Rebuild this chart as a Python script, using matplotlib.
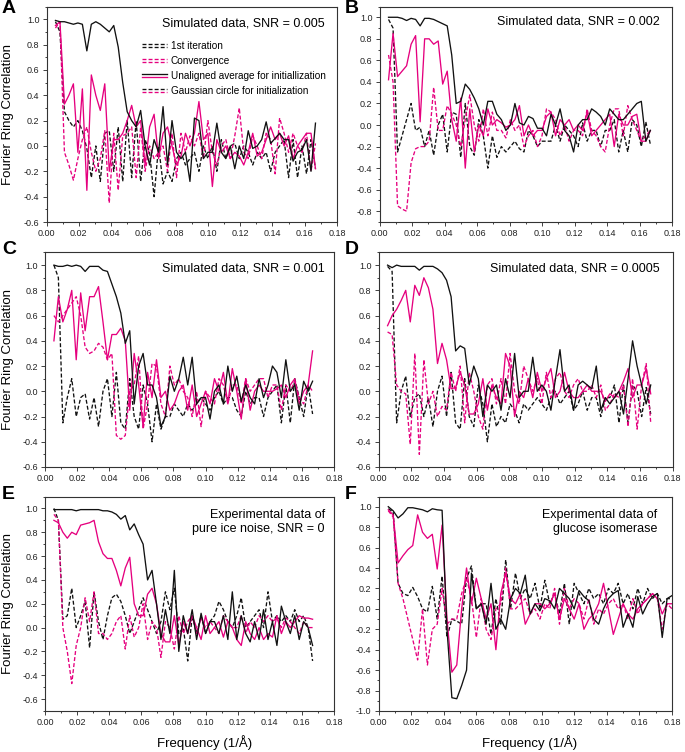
import numpy as np
import matplotlib
matplotlib.use("Agg")
import matplotlib.pyplot as plt
from matplotlib.lines import Line2D
from matplotlib.legend_handler import HandlerBase
from matplotlib.ticker import MultipleLocator, FormatStrFormatter

plt.rcParams['font.family'] = ['Liberation Sans', 'DejaVu Sans']
plt.rcParams['axes.unicode_minus'] = False

# ---------------- data ----------------
# frequency grids (1/Å)
freq_sim = np.arange(2, 61) / 360.0          # panels A-E
freq_gi = np.arange(2, 61) * 0.003           # panel F

series_names = ["1st iteration, unaligned average", "Convergence, unaligned average",
                "1st iteration, Gaussian circle", "Convergence, Gaussian circle"]

a_first_unal = [.99, .98, .98, .97, .96, .97, .96, .75, .96, .98, .96, .93, .90, .95, .78, .50, .27, .20, .15, .28,
                .00, -.15, .05, -.05, .31, -.15, .20, -.05, -.10, -.05, -.28, .22, .20, -.10, -.05, -.05, .18, -.05,
                -.10, .00, -.18, .00, -.10, .12, -.02, .00, .05, .19, .02, .06, .10, .05, .05, -.12, -.05, -.03, .05,
                -.20, .18]
a_conv_unal = [.95, .98, .33, .40, .49, -.05, .45, -.35, .56, .40, .28, .49, -.20, .05, .05, .10, .20, .32, .15, .20,
               -.15, .15, .25, -.10, .10, .15, .00, -.15, -.08, .10, .00, .10, .35, .05, .10, -.32, .05, -.05, .00,
               -.10, -.05, -.08, -.15, -.05, .10, -.08, -.05, .05, .15, .05, .10, .00, .08, -.10, .00, .05, .10, .10,
               -.18]
a_first_gaus = [.98, .90, .27, .20, .15, .20, .12, -.02, -.25, .00, -.28, .10, .12, -.20, .15, -.28, .20, -.25, .20,
                -.28, .05, -.05, -.40, .00, -.30, -.20, -.28, -.10, -.05, -.15, -.10, -.05, -.20, .00, -.10, .00,
                -.20, .05, -.10, .00, .02, -.10, .00, -.05, -.15, -.05, -.10, -.05, -.20, -.05, .00, .05, -.25, .05,
                -.25, .00, -.22, .05, -.18]
a_conv_gaus = [.93, .98, -.05, -.15, -.27, -.10, .05, .15, -.05, -.20, -.10, .12, -.45, .10, -.35, .08, .10, .15, -.25,
               .15, -.20, .00, -.10, -.05, .00, -.20, .10, -.25, .10, -.05, .08, .00, .10, -.10, .20, -.05, -.15, .00,
               .05, -.10, .08, .30, -.05, -.10, .08, .00, -.10, .10, .05, -.22, .22, .10, -.05, .10, .00, -.05, .10,
               -.20, .02]

b_first_unal = [1.00, 1.00, 1.00, .99, .97, .99, .98, .92, .99, .99, .98, .96, .94, .92, .65, .20, .22, .38, .33, .25,
                .15, .00, .22, .22, .10, .05, -.05, .00, .20, .02, .00, .08, .06, -.03, -.03, -.10, .10, .00, .15,
                -.05, -.10, -.25, .00, .05, .05, .15, .12, .08, .00, .15, .10, .05, .05, .10, .15, .20, .22, -.15, -.05]
b_conv_unal = [.42, .85, .45, .50, .55, .75, .83, .03, .80, .80, .75, .78, .38, .50, .05, -.15, .25, -.40, .15, -.25,
               .00, -.10, .15, .00, .05, .02, -.02, .00, .05, .18, -.10, .00, -.10, -.05, -.05, .08, .12, -.10, .05,
               .00, .05, -.05, .00, -.05, .12, -.10, -.05, .00, .05, .10, -.20, .10, .00, .00, .08, .10, -.15, -.15,
               -.05]
b_first_gaus = [.98, .90, -.25, -.10, .05, .20, -.05, -.02, -.20, -.05, -.28, .00, .10, -.25, .12, .10, -.30, .20,
                -.20, -.28, .05, -.10, -.40, -.10, -.30, -.20, -.25, -.20, -.15, -.22, -.25, -.05, -.10, -.20, -.15,
                -.15, -.15, .00, -.15, .00, -.05, -.10, -.20, .02, -.15, -.05, -.05, -.20, -.05, -.05, .05, -.25,
                -.05, -.25, .05, .00, -.20, .03, -.18]
b_conv_gaus = [.65, .40, -.75, -.78, -.80, -.35, -.22, -.20, -.20, -.15, .35, -.05, -.05, .18, .10, .00, -.20, .05,
               .28, .00, -.15, .15, -.10, .12, -.05, -.05, -.12, .05, -.05, .00, -.20, -.10, -.05, -.20, -.10, .15,
               .12, .05, -.10, .00, -.15, -.05, -.05, -.10, .15, -.05, -.10, -.20, -.25, .00, .15, .15, -.10, .18,
               .05, -.05, -.15, -.10, -.05]

c_first_unal = [1.00, .99, .99, 1.00, .99, 1.00, .99, .95, .99, .99, .99, .96, .95, .85, .75, .62, .38, .48, -.10,
                .20, .30, .05, .05, -.05, -.28, -.20, .12, .00, .10, .27, .05, .27, -.10, -.05, -.05, -.22, .00, .05,
                -.10, .20, .00, .12, -.08, .05, -.05, -.10, .10, -.05, .05, .20, .15, -.05, .25, .00, .05, -.15, .08,
                .00, .08]
c_conv_unal = [.40, .75, .55, .65, .80, .25, .78, .48, .75, .75, .83, .55, .25, .45, .45, .50, .40, -.15, .30, .05,
               -.28, .15, -.05, .25, -.05, .00, -.15, -.10, .00, .05, -.15, .05, -.20, -.10, .00, -.10, .10, .00,
               .15, -.10, .18, .00, -.22, .10, -.15, .00, .05, .00, .00, .00, .02, .05, -.05, .05, .10, -.10, .00,
               .05, .32]
c_first_gaus = [1.00, .90, -.25, -.05, .10, -.20, -.05, -.02, -.22, -.05, -.28, .00, .10, -.20, .15, -.25, -.30, .10,
                -.20, -.30, .05, -.10, -.40, -.10, -.30, -.20, -.20, -.10, -.15, -.20, -.10, -.15, -.10, -.05, -.10,
                -.15, -.05, .00, -.10, -.05, -.05, -.15, -.20, .00, -.10, -.05, -.05, -.20, -.05, .00, .05, -.25,
                .05, -.25, .10, -.05, -.20, .05, -.18]
c_conv_gaus = [.60, .55, .60, .65, .70, .75, .60, .35, .30, .32, .38, .35, .25, .30, -.35, -.38, -.35, .00, .05, .28,
               -.30, -.10, .22, .20, -.10, -.20, .20, .05, .10, .00, -.05, -.20, .00, -.28, .00, -.05, -.10, .10,
               .05, -.10, .05, .05, -.10, .10, .00, .05, .10, .10, -.05, .05, .05, -.15, .05, .00, .08, -.05, -.10,
               .05, .00]

d_first_unal = [1.00, .98, 1.00, .99, .99, .99, .99, .96, .99, .99, .99, .97, .94, .88, .75, .32, .36, .34, .05, .20,
                .10, -.20, .05, .00, .05, -.15, .10, -.05, .30, -.05, .00, .00, .27, .00, .05, .00, -.15, .10, .33,
                .00, .05, -.15, .05, .08, .05, .02, .20, -.15, -.05, -.10, -.05, .00, -.18, .10, .40, .20, .05, -.10,
                .05]
d_conv_unal = [.52, .60, .65, .72, .80, .55, .84, .76, .90, .82, .65, .22, .38, .25, .02, .03, .15, .05, -.18, -.18,
               -.10, .10, -.15, .05, -.05, -.10, .30, .20, -.20, .00, -.05, .10, -.05, .15, .00, .10, .18, -.05, .00,
               .15, .00, -.05, -.05, .00, .05, .00, .00, .00, -.08, -.02, -.05, .00, .08, .18, -.05, .05, .05, .18,
               -.02]
d_first_gaus = [.99, .95, -.25, .00, .12, -.20, -.05, -.02, -.20, -.05, -.28, .00, .12, -.20, .15, -.25, -.30, .10,
                -.20, -.28, .05, -.10, -.40, -.10, -.28, -.20, -.25, -.10, -.15, -.25, -.10, -.15, -.10, -.05, -.10,
                -.15, -.05, .00, -.10, -.05, .00, -.15, -.10, .00, -.15, -.05, -.05, -.20, -.05, -.05, .05, -.25,
                .05, -.25, .05, .00, -.20, .03, -.18]
d_conv_gaus = [.47, .45, .05, .00, -.02, -.42, .30, -.50, .25, -.10, .00, -.20, -.12, -.15, .15, .00, .20, -.25, .15,
               .00, -.20, -.30, .05, .10, -.10, .10, -.10, .30, .00, -.10, .20, .10, .00, .10, -.10, .15, -.05, .10,
               .15, .00, -.05, .05, .10, .00, .00, .05, -.05, .05, -.15, -.10, -.02, -.05, .05, -.28, .10, -.30, .05,
               .22, -.25]

e_first_unal = [.99, .99, .99, .99, .99, .98, .99, .99, .99, .99, .99, .98, .98, .97, .95, .91, .94, .82, .87, .78,
                .70, .40, .48, .20, -.10, .15, -.05, .48, -.20, .10, -.05, .15, -.10, .12, -.05, .05, .05, -.05, .10,
                -.10, .30, -.10, .10, -.05, -.12, .05, -.10, .15, -.10, .05, -.15, .18, .05, -.05, .10, -.10, .05,
                .00, -.15]
e_conv_unal = [.90, .88, .80, .75, .80, .78, .86, .87, .88, .90, .72, .62, .58, .58, .48, .35, .50, .59, .20, .10,
               .10, .28, .33, .20, -.05, -.12, -.12, .10, -.15, .05, -.05, .10, .00, -.10, .10, -.05, .00, .05, -.08,
               .05, .00, -.10, -.15, .05, -.05, -.10, .00, -.10, -.05, -.08, .10, -.05, .05, .00, .05, .10, .08, .08,
               .07]
e_first_gaus = [1.00, .90, .07, .10, .33, .00, .10, .22, -.17, .30, .05, -.10, .10, .25, .28, .22, .10, -.05, .05,
                .15, .25, .15, .05, -.05, .05, .30, .15, .33, -.05, .00, -.28, .10, -.05, .10, -.05, .05, .10, .22,
                .15, .05, .00, .10, .25, .00, .05, .10, .15, .00, .30, .05, .10, .05, .10, .05, .15, .05, .10, .00,
                -.28]
e_conv_gaus = [.95, .90, .00, -.20, -.47, -.15, .00, .25, .05, .30, -.05, -.05, -.10, -.05, .05, .10, -.18, .10, -.08,
               .00, .20, -.10, .05, .00, -.25, .05, .00, -.18, .10, -.05, .05, .10, -.05, .08, .00, .05, .00, -.05,
               .10, .05, .00, .00, .10, -.05, .05, .00, .10, .05, .10, .05, .08, .00, .08, .05, .00, -.05, .05, .00,
               .00]

f_first_unal = [1.00, .96, .89, .93, .99, .99, .98, .97, .95, .98, .97, .965, -.20, -.87, -.88, -.75, -.60, .35, .00,
                .05, -.15, .25, -.20, -.10, -.20, .10, .20, .15, .33, -.05, .05, -.02, .10, .08, .00, .20, .15, .10,
                .00, .18, .12, .08, -.10, -.15, .00, .10, .15, .18, -.18, -.05, -.18, .12, -.05, .05, .12, .15, -.28,
                .10, .13]
f_conv_unal = [.97, .92, .45, .52, .58, .62, .92, .75, .69, .73, .39, .82, -.10, -.62, -.55, .00, .40, .05, .30, .10,
               -.10, .05, -.40, .15, .35, .10, .05, .15, -.15, -.05, .05, .05, .00, .05, .15, -.10, .10, .00, -.10,
               .05, -.20, -.10, -.05, .05, .25, .00, -.25, -.10, .05, -.05, -.10, .00, .05, .10, .15, .10, -.05, .05,
               .05]
f_first_gaus = [.98, .95, .25, .15, .13, .21, .12, .00, -.03, .22, -.10, .32, -.28, -.10, -.12, -.15, .30, .42, .00,
                .05, .05, -.25, .10, -.15, .48, .00, .35, .10, .20, .10, .25, .00, .28, .05, .15, -.05, .25, -.15,
                .25, .15, .05, .20, .10, .15, .05, .20, .15, .25, .05, .15, .00, .20, .05, .20, .10, .15, .05, .10,
                .10]
f_conv_gaus = [.96, .90, .25, .10, -.10, -.30, -.50, .00, -.55, -.20, -.15, .20, -.15, -.10, -.10, .15, .30, .10,
               -.28, .10, -.20, -.30, .00, .05, .40, .00, .00, .05, .10, -.05, .00, -.10, .05, .00, .20, -.15, .20,
               .00, .10, .05, -.10, .10, -.15, .00, -.05, .05, .10, .00, .05, -.10, .10, -.05, .05, .10, .15, .10,
               -.20, .05, .00]

panel_letters = ["A", "B", "C", "D", "E", "F"]
panel_titles = ["Simulated data, SNR = 0.005", "Simulated data, SNR = 0.002",
                "Simulated data, SNR = 0.001", "Simulated data, SNR = 0.0005",
                "Experimental data of\npure ice noise, SNR = 0", "Experimental data of\nglucose isomerase"]
legend_labels = ["1st iteration", "Convergence",
                 "Unaligned average for initiallization", "Gaussian circle for initialization"]
y_label = "Fourier Ring Correlation"
x_label = "Frequency (1/Å)"

panel_data = [
    (freq_sim, a_first_unal, a_conv_unal, a_first_gaus, a_conv_gaus),
    (freq_sim, b_first_unal, b_conv_unal, b_first_gaus, b_conv_gaus),
    (freq_sim, c_first_unal, c_conv_unal, c_first_gaus, c_conv_gaus),
    (freq_sim, d_first_unal, d_conv_unal, d_first_gaus, d_conv_gaus),
    (freq_sim, e_first_unal, e_conv_unal, e_first_gaus, e_conv_gaus),
    (freq_gi, f_first_unal, f_conv_unal, f_first_gaus, f_conv_gaus),
]

# ---------------- styling / layout ----------------
BLACK = "#111111"
MAG = "#e5007e"
W, H = 685, 752
LW = 0.95
DASH = (3.0, 1.6)

# axes boxes in pixels: (left, top, right, bottom)
boxes_px = [
    (46.5, 6.5, 337.0, 222), (379.5, 6.5, 672.0, 222),
    (45.0, 252.5, 334.0, 467), (378.5, 252.5, 672.5, 467),
    (45.0, 496.5, 334.0, 711), (378.5, 496.5, 672.0, 711),
]
ylims = [(-0.6, 1.1), (-0.9, 1.1), (-0.6, 1.1), (-0.6, 1.1), (-0.7, 1.1), (-1.0, 1.1)]
title_px = [(325, 24), (660, 22), (325, 268), (660, 268), (325, 522), (657, 522)]
letter_px = [(2, 0), (345, 0), (2, 241), (345, 241), (2, 486), (345, 486)]


class DoubleLine:
    def __init__(self, top, bottom):
        self.top = top
        self.bottom = bottom


class DoubleLineHandler(HandlerBase):
    def create_artists(self, legend, orig_handle, xdescent, ydescent, width, height, fontsize, trans):
        arts = []
        yc = height / 2.0 - ydescent
        for (color, ls), dy in ((orig_handle.top, 1.1), (orig_handle.bottom, -1.1)):
            ln = Line2D([-xdescent, width - xdescent], [yc + dy, yc + dy], color=color, lw=LW)
            if ls == "dashed":
                ln.set_dashes(DASH)
            ln.set_transform(trans)
            arts.append(ln)
        return arts


fig = plt.figure(figsize=(W / 100, H / 100), dpi=100)

for i, (fx, fu, cu, fg, cg) in enumerate(panel_data):
    l, t, r, b = boxes_px[i]
    ax = fig.add_axes([l / W, 1 - b / H, (r - l) / W, (b - t) / H])
    ax.plot(fx, fg, color=BLACK, lw=LW, dashes=DASH)
    ax.plot(fx, cg, color=MAG, lw=LW, dashes=DASH)
    ax.plot(fx, cu, color=MAG, lw=LW)
    ax.plot(fx, fu, color=BLACK, lw=LW)

    ax.set_xlim(0, 0.18)
    ax.set_ylim(*ylims[i])
    ax.xaxis.set_major_locator(MultipleLocator(0.02))
    ax.xaxis.set_minor_locator(MultipleLocator(0.01))
    ax.yaxis.set_major_locator(MultipleLocator(0.2))
    ax.yaxis.set_minor_locator(MultipleLocator(0.1))
    ax.xaxis.set_major_formatter(FormatStrFormatter("%.2f"))
    ax.yaxis.set_major_formatter(FormatStrFormatter("%.1f"))
    ax.tick_params(which="both", direction="out", labelsize=6.5, width=0.6, pad=2, colors="#222222")
    ax.tick_params(which="major", length=3)
    ax.tick_params(which="minor", length=1.6)
    for sp in ax.spines.values():
        sp.set_linewidth(0.8)
        sp.set_color("#333333")

    tx, ty = title_px[i]
    fig.text(tx / W, 1 - ty / H, panel_titles[i], ha="right", va="center",
             fontsize=9, linespacing=1.25)

    lx, ly = letter_px[i]
    fig.text(lx / W, 1 - ly / H, panel_letters[i], fontsize=14, fontweight="bold", ha="left", va="top")

    if i == 0:
        handles = [DoubleLine((BLACK, "dashed"), (BLACK, "dashed")),
                   DoubleLine((MAG, "dashed"), (MAG, "dashed")),
                   DoubleLine((BLACK, "solid"), (MAG, "solid")),
                   DoubleLine((BLACK, "dashed"), (MAG, "dashed"))]
        ax.legend(handles, legend_labels, handler_map={DoubleLine: DoubleLineHandler()},
                  loc="upper left", bbox_to_anchor=(0.33, 0.842), frameon=False, fontsize=7.2,
                  handlelength=2.5, handletextpad=0.35, labelspacing=0.5, borderpad=0, borderaxespad=0)

    if i % 2 == 0:
        yc = 1 - ((t + b) / 2) / H
        fig.text(8 / W, yc, y_label, rotation=90, ha="center", va="center", fontsize=9.5)

fig.text(205 / W, 1 - 743 / H, x_label, ha="center", va="center", fontsize=9.5)
fig.text(530 / W, 1 - 743 / H, x_label, ha="center", va="center", fontsize=9.5)

fig.savefig("out.png", dpi=100)
